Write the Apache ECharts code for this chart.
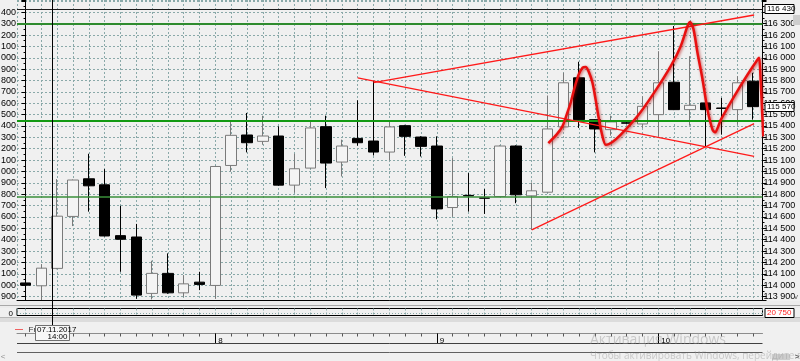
<!DOCTYPE html>
<html><head><meta charset="utf-8">
<script src="https://cdn.jsdelivr.net/npm/echarts@6/dist/echarts.min.js"></script>
<style>html,body{margin:0;padding:0;background:#f0f0f0;overflow:hidden}#c{width:800px;height:361px}</style>
</head><body><div id="c"></div>
<script>
// ---- data ----
const opens  = [114020,113995,114148,114605,114936,114883,114436,114424,113928,114104,113933,114027,113998,115053,115321,115265,115312,114880,115030,115394,115083,115291,115268,115171,115403,115303,115224,114683,114790,114768,114780,115224,114786,114818,115392,115824,115456,115368,115428,115418,115500,115785,115544,115603,115558,115544,115794];
const closes = [114000,114150,114607,114925,114874,114433,114404,113913,114104,113933,114012,114007,115044,115318,115253,115312,114880,115024,115383,115074,115224,115253,115171,115392,115309,115221,114671,114780,114785,114765,115224,114795,114830,115374,115780,115456,115374,115436,115425,115573,115780,115544,115582,115544,115555,115780,115570];
const lows   = [113870,113870,114140,114520,114647,114430,114118,113880,113875,113925,113898,113957,113880,115000,115168,115235,114875,114815,115025,114854,114956,115227,115141,115097,115138,115132,114580,114603,114647,114627,114775,114721,114486,114815,115385,115383,115168,115315,115420,115383,115309,115540,115403,115221,115324,115412,115456];
const highs  = [114280,114185,114933,114930,115156,115021,114698,114539,114215,114280,114089,114118,115050,115450,115515,115491,115397,115156,115450,115491,115280,115626,115797,115441,115410,115310,115309,115118,114986,114845,115230,115230,114903,115668,115868,115965,115460,115491,115435,115661,116058,116279,116014,115610,115647,115838,115868];
const greenLevels = [116300, 115450, 114780];
const blackLevel = 116430;
const currentPrice = 115570;
const indicatorValue = '20 750';
// straight trend lines: [candle index, price]
const fallingLine = [[21, 115823], [46.06, 115132]];
const upperLine   = [[22, 115782], [46.06, 116376]];
const lowerLine   = [[32, 114486], [46.06, 115421]];
// hand-drawn curve
const curveIdx = [33.05,33.57,33.94,34.21,34.46,34.71,34.97,35.22,35.41,35.6,35.84,36.04,36.23,36.42,36.68,37.12,37.63,38.68,39.73,40.79,41.42,41.85,42.01,42.23,42.48,42.8,43.11,43.43,43.59,43.96,44.8,45.65,46.28,46.38,46.46,46.56,46.64];
const curveVal = [115250,115324,115397,115500,115603,115738,115853,115914,115919,115879,115780,115632,115474,115341,115235,115262,115324,115485,115691,115926,116102,116279,116314,116250,116044,115809,115544,115368,115344,115456,115661,115853,115985,116000,115838,115544,115309];
const dayStarts = [12, 26, 40];
const dayLabels = ['8', '9', '10'];
const cursorIndex = 1.7;
const cursorDate = '07.11.2017';
const cursorTime = '14:00';
const cursorDay = 'Fri';

// ---- layout ----
const X_MIN = -0.54, X_MAX = 46.59, Y_MIN = 113870, Y_MAX = 116508;
const L = 17, R = 37.5;
const FONT = 'Liberation Sans';
const fmtPrice = v => { const s = String(Math.round(v)); return s.slice(0, s.length-3) + ' ' + s.slice(-3); };
const candleData = opens.map((o, i) => [i, o, closes[i], lows[i], highs[i]]);
const dayMap = {}; dayStarts.forEach((d, k) => dayMap[d] = dayLabels[k]);
const gridLine = { show: true, lineStyle: { color: '#8aa9a9', type: [2, 2], width: 1 } };

const chart = echarts.init(document.getElementById('c'), null, { renderer: 'canvas' });
const option = {
  animation: false,
  backgroundColor: '#f0f0f0',
  grid: [
    { left: L, right: R, top: 0, height: 300, outerBoundsMode: 'none', containLabel: false },
    { left: L, right: R, top: 308.5, height: 7, outerBoundsMode: 'none', containLabel: false, show: true, borderColor: '#000', borderWidth: 1, backgroundColor: 'transparent' },
    { left: L, right: R, top: 333.5, height: 10, outerBoundsMode: 'none', containLabel: false }
  ],
  xAxis: [
    { type: 'value', gridIndex: 0, min: X_MIN, max: X_MAX, minInterval: 1, maxInterval: 1,
      axisLine: { show: true, onZero: false, lineStyle: { color: '#000', width: 1 } },
      axisTick: { show: false }, axisLabel: { show: false }, splitLine: gridLine },
    { type: 'value', gridIndex: 1, min: X_MIN, max: X_MAX, minInterval: 1, maxInterval: 1,
      axisLine: { show: false }, axisTick: { show: false }, axisLabel: { show: false }, splitLine: gridLine },
    { type: 'value', gridIndex: 2, position: 'top', min: X_MIN, max: X_MAX, minInterval: 1, maxInterval: 1,
      axisLine: { show: true, onZero: false, lineStyle: { color: '#8c8c8c', width: 1 } },
      axisTick: { show: true, inside: true, length: 3, lineStyle: { color: '#555' } },
      axisLabel: { show: true, inside: true, margin: 3, align: 'left', verticalAlign: 'top', padding: [0, 0, 0, 3],
        fontFamily: FONT, fontSize: 8, color: '#000', showMinLabel: false, showMaxLabel: false,
        formatter: v => dayMap[Math.round(v)] !== undefined && Math.abs(v - Math.round(v)) < 1e-6 ? dayMap[Math.round(v)] : '' },
      splitLine: { show: false } }
  ],
  yAxis: [
    { type: 'value', gridIndex: 0, position: 'left', min: Y_MIN, max: Y_MAX, minInterval: 100, maxInterval: 100,
      axisLine: { show: true, lineStyle: { color: '#000' } },
      axisTick: { show: true, length: 4, lineStyle: { color: '#000' } },
      minorTick: { show: true, splitNumber: 2, length: 2, lineStyle: { color: '#000' } },
      axisLabel: { show: true, margin: 1, fontFamily: FONT, fontSize: 9, color: '#000', showMinLabel: false, showMaxLabel: false,
        formatter: v => Math.round(v) >= 116500 ? '' : fmtPrice(v) },
      splitLine: gridLine },
    { type: 'value', gridIndex: 0, position: 'right', min: Y_MIN, max: Y_MAX, minInterval: 100, maxInterval: 100,
      axisLine: { show: true, lineStyle: { color: '#000' } },
      axisTick: { show: true, length: 4, lineStyle: { color: '#000' } },
      minorTick: { show: true, splitNumber: 2, length: 2, lineStyle: { color: '#000' } },
      axisLabel: { show: true, margin: 1, fontFamily: FONT, fontSize: 9, color: '#000', showMinLabel: false, showMaxLabel: false,
        formatter: v => Math.round(v) >= 116400 ? '' : fmtPrice(v) },
      splitLine: { show: false } },
    { type: 'value', gridIndex: 1, min: -1.5, max: 3.3, interval: 1.5,
      axisLine: { show: false }, axisTick: { show: false },
      axisLabel: { show: true, margin: 4, fontFamily: FONT, fontSize: 8, color: '#000', showMinLabel: false, showMaxLabel: false,
        formatter: v => Math.abs(v) < 1e-9 ? '0' : '' },
      splitLine: { show: false } },
    { type: 'value', gridIndex: 2, min: 0, max: 1, show: false }
  ],
  series: [
    { type: 'candlestick', xAxisIndex: 0, yAxisIndex: 1, data: candleData,
      dimensions: ['x', 'open', 'close', 'low', 'high'],
      encode: { x: 'x', y: ['open', 'close', 'low', 'high'] },
      barWidth: 11, clip: true,
      itemStyle: { color: '#f4f4f4', color0: '#000000', borderColor: '#7a7a7a', borderColor0: '#000000', borderColorDoji: '#000000', borderWidth: 1 },
      markLine: { silent: true, symbol: 'none', label: { show: false }, animation: false,
        data: [
          { yAxis: greenLevels[0], lineStyle: { color: '#2e8b2e', width: 2, type: 'solid' } },
          { yAxis: greenLevels[1], lineStyle: { color: '#139a13', width: 2, type: 'solid' } },
          { yAxis: greenLevels[2], lineStyle: { color: '#3a8f3a', width: 1.5, type: 'solid' } },
          { yAxis: blackLevel, lineStyle: { color: '#1a1a1a', width: 1, type: 'solid' } }
        ] } },
    { type: 'line', xAxisIndex: 0, yAxisIndex: 1, data: fallingLine, symbol: 'none', lineStyle: { color: '#ff1a1a', width: 1.3 }, z: 5 },
    { type: 'line', xAxisIndex: 0, yAxisIndex: 1, data: upperLine, symbol: 'none', lineStyle: { color: '#ff1a1a', width: 1.3 }, z: 5 },
    { type: 'line', xAxisIndex: 0, yAxisIndex: 1, data: lowerLine, symbol: 'none', lineStyle: { color: '#ff1a1a', width: 1.3 }, z: 5 },
    { type: 'line', xAxisIndex: 0, yAxisIndex: 1, data: curveIdx.map((x, k) => [x, curveVal[k]]), symbol: 'none', smooth: 0.25, clip: false,
      lineStyle: { color: '#e81010', width: 2.5, shadowBlur: 3, shadowColor: 'rgba(180,0,0,0.6)', shadowOffsetX: 1, shadowOffsetY: 1 }, z: 20 },
    { type: 'line', xAxisIndex: 1, yAxisIndex: 2, data: [], symbol: 'none',
      markLine: { silent: true, symbol: 'none', label: { show: false }, data: [{ yAxis: 0, lineStyle: { color: '#8aa9a9', type: [1, 2], width: 1 } }] } },
    { type: 'line', xAxisIndex: 2, yAxisIndex: 3, data: [], symbol: 'none',
      markLine: { silent: true, symbol: 'none', label: { show: false },
        data: dayStarts.map(d => ({ xAxis: d, lineStyle: { color: '#000', type: 'solid', width: 1 } })) } }
  ]
};
chart.setOption(option);

// ---- chrome (computed from axes) ----
const px = v => chart.convertToPixel({ xAxisIndex: 0 }, v);
const py = v => chart.convertToPixel({ yAxisIndex: 1 }, v);
const cx = Math.round(px(cursorIndex)) + 0.5;
const rightX = 800 - R;
const g = [];
const hline = (x1, x2, y, c, w) => g.push({ type: 'line', shape: { x1, y1: y, x2, y2: y }, style: { stroke: c, lineWidth: w || 1 }, z: 50 });
g.push({ type: 'rect', shape: { x: 0, y: 301, width: 800, height: 7 }, style: { fill: '#ececec' }, z: 40 });
hline(0, 800, 305.5, '#a8a8a8');
g.push({ type: 'rect', shape: { x: 0, y: 317, width: 800, height: 5 }, style: { fill: '#dcdcdc' }, z: 40 });
hline(0, 800, 317.5, '#b8b8b8');
hline(L, rightX, 343.5, '#404040');
hline(L, rightX, 352.5, '#606060');
const box = (y, text, color, border) => {
  g.push({ type: 'rect', shape: { x: rightX + 2.5, y: Math.round(y) - 4.5, width: 29, height: 9 }, style: { fill: '#ffffff', stroke: border, lineWidth: 1 }, z: 60 });
  g.push({ type: 'text', x: rightX + 4.5, y: Math.round(y), style: { text, fill: color, font: '8px ' + FONT, verticalAlign: 'middle', align: 'left' }, z: 61 });
};
box(py(blackLevel), fmtPrice(blackLevel), '#000', '#000');
box(py(currentPrice), fmtPrice(currentPrice), '#000', '#000');
box(313, indicatorValue, '#ff2020', '#000');
g.push({ type: 'line', shape: { x1: cx, y1: 0, x2: cx, y2: 325 }, style: { stroke: '#000', lineWidth: 1 }, z: 55 });
g.push({ type: 'line', shape: { x1: 15, y1: 329.5, x2: 23, y2: 329.5 }, style: { stroke: '#f06060', lineWidth: 1 }, z: 55 });
g.push({ type: 'text', x: cx - 24, y: 330, style: { text: cursorDay, fill: '#333', font: '8px ' + FONT, verticalAlign: 'middle' }, z: 55 });
g.push({ type: 'rect', shape: { x: cx - 17, y: 325.5, width: 34, height: 15 }, style: { fill: '#f7f7f7', stroke: '#707070', lineWidth: 1 }, z: 56 });
g.push({ type: 'text', x: cx - 15.5, y: 330, style: { text: cursorDate, fill: '#000', font: '8px ' + FONT, verticalAlign: 'middle' }, z: 57 });
g.push({ type: 'text', x: cx + 15, y: 337, style: { text: cursorTime, fill: '#000', font: '8px ' + FONT, verticalAlign: 'middle', align: 'right' }, z: 57 });
g.push({ type: 'text', x: 590, y: 340, style: { text: 'Активация Windows', fill: 'rgba(150,150,150,0.45)', font: '14px "Open Sans"', verticalAlign: 'middle' }, z: 70 });
g.push({ type: 'text', x: 590, y: 356, style: { text: 'Чтобы активировать Windows, перейдите в', fill: 'rgba(150,150,150,0.45)', font: '10px "Open Sans"', verticalAlign: 'middle' }, z: 70 });
g.push({ type: 'rect', shape: { x: 772, y: 354, width: 18, height: 6 }, style: { fill: '#cdcdcd' }, z: 60 });
g.push({ type: 'text', x: 797, y: 357, style: { text: '>', fill: '#606060', font: 'bold 8px ' + FONT, align: 'center', verticalAlign: 'middle' }, z: 60 });
g.push({ type: 'text', x: 3, y: 357, style: { text: '<', fill: '#909090', font: '8px ' + FONT, align: 'center', verticalAlign: 'middle' }, z: 60 });
g.push({ type: 'rect', shape: { x: 793, y: 15, width: 7, height: 10 }, style: { fill: '#cdcdcd' }, z: 60 });
g.push({ type: 'text', x: 796, y: 297, style: { text: 'v', fill: '#606060', font: '8px ' + FONT, align: 'center', verticalAlign: 'middle' }, z: 60 });
chart.setOption({ graphic: { elements: g } });
</script></body></html>
